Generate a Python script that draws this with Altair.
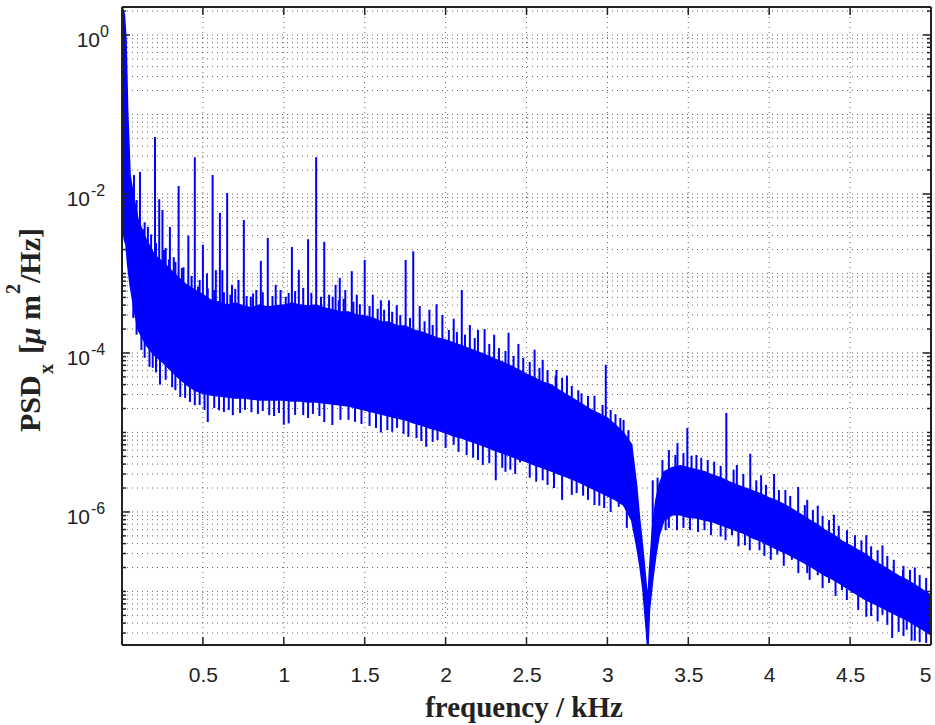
import altair as alt
import numpy as np
import pandas as pd

# ---- PSD trace: frequency nodes (kHz) with upper / lower edge of the dense band ----
freq = [0.002, 0.015, 0.025, 0.035, 0.05, 0.075, 0.10, 0.15, 0.20, 0.25, 0.30, 0.35,
        0.40, 0.45, 0.50, 0.55, 0.60, 0.65, 0.70, 0.75, 0.80, 0.85, 0.90, 0.95, 1.00,
        1.05, 1.10, 1.15, 1.20, 1.25, 1.30, 1.35, 1.40, 1.45, 1.50, 1.55, 1.60, 1.65,
        1.70, 1.75, 1.80, 1.85, 1.90, 1.95, 2.00, 2.05, 2.10, 2.15, 2.20, 2.25, 2.30,
        2.35, 2.40, 2.45, 2.50, 2.55, 2.60, 2.65, 2.70, 2.75, 2.80, 2.85, 2.90, 2.95,
        3.00, 3.05, 3.10, 3.15, 3.18, 3.20, 3.22, 3.24, 3.25, 3.26, 3.28, 3.30, 3.32,
        3.35, 3.40, 3.45, 3.50, 3.55, 3.60, 3.65, 3.70, 3.75, 3.80, 3.85, 3.90, 3.95,
        4.00, 4.05, 4.10, 4.15, 4.20, 4.25, 4.30, 4.35, 4.40, 4.45, 4.50, 4.55, 4.60,
        4.65, 4.70, 4.75, 4.80, 4.85, 4.90, 4.95, 5.00]

psd_upper = [2.25, 1.79, 0.865, 0.114, 0.0173, 0.0084, 0.0047, 0.00264, 0.00171, 0.0014,
             0.00111, 0.00088, 0.000716, 0.00062, 0.00054, 0.00046, 0.000438, 0.0004,
             0.000426, 0.00039, 0.000368, 0.0004, 0.00038, 0.00039, 0.0004, 0.000426,
             0.0004, 0.00039, 0.0004, 0.000368, 0.00035, 0.000328, 0.000328, 0.0003,
             0.000292, 0.000275, 0.000245, 0.000245, 0.000219, 0.000219, 0.000195,
             0.000184, 0.000168, 0.000154, 0.000146, 0.000134, 0.000123, 0.000112,
             0.000103, 9.4e-5, 8.4e-5, 7.7e-5, 6.9e-5, 6.1e-5, 5.4e-5, 4.85e-5, 4.3e-5,
             4.0e-5, 3.4e-5, 2.96e-5, 2.56e-5, 2.22e-5, 1.92e-5, 1.71e-5, 1.52e-5,
             1.24e-5, 9.9e-6, 7.0e-6, 2.2e-6, 7.9e-7, 3.3e-7, 1.2e-7, 7.8e-8, 1.86e-7,
             6.9e-7, 1.42e-6, 2.2e-6, 3.2e-6, 3.6e-6, 3.8e-6, 3.6e-6, 3.4e-6, 3.2e-6,
             2.9e-6, 2.7e-6, 2.4e-6, 2.19e-6, 2.0e-6, 1.84e-6, 1.68e-6, 1.5e-6, 1.38e-6,
             1.22e-6, 1.06e-6, 9.2e-7, 7.9e-7, 6.9e-7, 5.8e-7, 5.1e-7, 4.3e-7, 3.8e-7,
             3.3e-7, 2.9e-7, 2.4e-7, 2.1e-7, 1.81e-7, 1.57e-7, 1.4e-7, 1.21e-7, 1.04e-7,
             9.0e-8]

psd_lower = [0.0041, 0.00264, 0.00228, 0.00128, 0.000716, 0.00035, 0.000195, 0.000126,
             9.4e-5, 7.7e-5, 6.1e-5, 4.85e-5, 4.0e-5, 3.4e-5, 3.1e-5, 2.96e-5, 2.88e-5,
             2.8e-5, 2.72e-5, 2.72e-5, 2.64e-5, 2.56e-5, 2.56e-5, 2.56e-5, 2.56e-5,
             2.49e-5, 2.49e-5, 2.42e-5, 2.42e-5, 2.35e-5, 2.28e-5, 2.22e-5, 2.15e-5,
             2.03e-5, 1.92e-5, 1.81e-5, 1.71e-5, 1.61e-5, 1.52e-5, 1.44e-5, 1.32e-5,
             1.24e-5, 1.14e-5, 1.07e-5, 9.9e-6, 9.0e-6, 8.5e-6, 7.8e-6, 7.2e-6, 6.6e-6,
             6.0e-6, 5.5e-6, 5.1e-6, 4.6e-6, 4.3e-6, 3.9e-6, 3.6e-6, 3.3e-6, 3.0e-6,
             2.75e-6, 2.5e-6, 2.25e-6, 2.0e-6, 1.79e-6, 1.59e-6, 1.42e-6, 1.22e-6, 7.9e-7,
             3.8e-7, 2.15e-7, 1.04e-7, 3.3e-8, 1.8e-8, 5.85e-8, 1.4e-7, 2.9e-7, 5.1e-7,
             7.9e-7, 9.2e-7, 9.2e-7, 8.6e-7, 8.4e-7, 7.9e-7, 7.5e-7, 6.9e-7, 6.3e-7,
             5.8e-7, 5.3e-7, 4.7e-7, 4.3e-7, 3.8e-7, 3.4e-7, 3.05e-7, 2.7e-7, 2.4e-7,
             2.1e-7, 1.81e-7, 1.57e-7, 1.4e-7, 1.21e-7, 1.04e-7, 9.0e-8, 7.8e-8, 7.0e-8,
             6.2e-8, 5.5e-8, 4.9e-8, 4.4e-8, 3.8e-8, 3.3e-8, 2.84e-8]

# ---- narrow peaks standing well above the band ----
peak_freq = [0.074, 0.111, 0.13, 0.16, 0.204, 0.23, 0.25, 0.27, 0.296, 0.32, 0.35, 0.38,
             0.41, 0.45, 0.47, 0.50, 0.525, 0.56, 0.58, 0.605, 0.62, 0.65, 0.68, 0.72,
             0.753, 0.796, 0.83, 0.858, 0.901, 0.95, 1.012, 1.05, 1.093, 1.12, 1.15, 1.20,
             1.25, 1.302, 1.32, 1.346, 1.38, 1.42, 1.451, 1.50, 1.55, 1.60, 1.65, 1.698,
             1.753, 1.80, 1.84, 1.90, 1.944, 1.98, 2.05, 2.10, 2.15, 2.20, 2.241, 2.30,
             2.389, 2.45, 2.55, 2.60, 2.685, 2.75, 2.84, 2.92, 2.99, 3.05, 3.10, 3.28,
             3.38, 3.433, 3.494, 3.55, 3.62, 3.735, 3.80, 3.883, 3.95, 4.03, 4.10, 4.179,
             4.235, 4.30, 4.40, 4.481, 4.60, 4.70, 4.827, 4.90]
peak_psd = [0.0173, 0.0189, 0.0036, 0.00385, 0.052, 0.0086, 0.0063, 0.0021, 0.00385,
            0.0016, 0.0126, 0.0012, 0.0030, 0.029, 0.00068, 0.0023, 0.0010, 0.0173,
            0.0011, 0.0058, 0.0011, 0.0103, 0.00072, 0.00083, 0.0047, 0.00051, 0.00062,
            0.00144, 0.0028, 0.00072, 0.00051, 0.00215, 0.00111, 0.00066, 0.0027, 0.029,
            0.0025, 0.00051, 0.00072, 0.00088, 0.00062, 0.00107, 0.00054, 0.00148,
            0.00054, 0.00046, 0.00046, 0.00040, 0.00148, 0.0019, 0.00039, 0.00035,
            0.00041, 0.0003, 0.00027, 0.00062, 0.000225, 0.000195, 0.0002, 0.00017,
            0.00018, 0.00013, 0.00011, 8.2e-5, 6.1e-5, 5.2e-5, 3.1e-5, 2.9e-5, 7.1e-5,
            1.7e-5, 1.44e-5, 2.5e-6, 6.0e-6, 7.4e-6, 1.14e-5, 5.2e-6, 4.5e-6, 1.76e-5,
            3.9e-6, 5.4e-6, 2.9e-6, 3.0e-6, 1.89e-6, 2.06e-6, 1.42e-6, 1.2e-6, 9.2e-7,
            5.9e-7, 5.1e-7, 3.8e-7, 1.86e-7, 2.0e-7]

# ---- narrow notches dropping well below the band ----
notch_freq = [0.17, 0.235, 0.36, 0.45, 0.53, 0.60, 0.685, 0.80, 0.91, 1.00, 1.03, 1.12,
              1.25, 1.30, 1.40, 1.60, 1.70, 1.77, 1.88, 1.95, 2.05, 2.13, 2.23, 2.31,
              2.40, 2.46, 2.60, 2.72, 2.85, 2.95, 3.07, 3.36, 3.51, 3.60, 3.70, 3.77,
              3.85, 3.94, 4.05, 4.14, 4.235, 4.30, 4.37, 4.45, 4.51, 4.60, 4.70, 4.76,
              4.85, 4.90, 4.97]
notch_psd = [6.7e-5, 4.0e-5, 2.8e-5, 2.2e-5, 1.35e-5, 1.9e-5, 1.65e-5, 1.8e-5, 1.65e-5,
             1.25e-5, 1.3e-5, 1.65e-5, 1.35e-5, 1.24e-5, 1.44e-5, 1.0e-5, 1.14e-5, 8.8e-6,
             6.6e-6, 8.0e-6, 7.0e-6, 5.2e-6, 3.9e-6, 2.5e-6, 3.4e-6, 4.2e-6, 2.5e-6,
             1.42e-6, 1.6e-6, 1.2e-6, 1.16e-6, 5.9e-7, 5.9e-7, 5.9e-7, 4.9e-7, 5.1e-7,
             3.8e-7, 3.3e-7, 2.9e-7, 2.5e-7, 1.7e-7, 1.6e-7, 1.28e-7, 1.04e-7, 9.6e-8,
             4.8e-8, 5.1e-8, 2.6e-8, 3.3e-8, 2.4e-8, 2.25e-8]

# ---- short ripples along the upper edge of the band ----
ripple_up_freq = [0.09, 0.14, 0.18, 0.21, 0.26, 0.29, 0.33, 0.37, 0.43, 0.48, 0.53, 0.57,
                  0.63, 0.67, 0.70, 0.77, 0.81, 0.87, 0.93, 0.98, 1.03, 1.07, 1.17, 1.23,
                  1.28, 1.34, 1.37, 1.43, 1.47, 1.53, 1.58, 1.62, 1.67, 1.72, 1.78, 1.87,
                  1.92, 2.02, 2.07, 2.12, 2.18, 2.27, 2.33, 2.37, 2.42, 2.48, 2.52, 2.58,
                  2.63, 2.68, 2.72, 2.78, 2.82, 2.88, 2.97, 3.02, 3.08, 3.13, 3.31, 3.34,
                  3.42, 3.47, 3.52, 3.58, 3.66, 3.70, 3.78, 3.84, 3.92, 3.98, 4.06, 4.13,
                  4.22, 4.27, 4.33, 4.37, 4.43, 4.53, 4.57, 4.63, 4.67, 4.73, 4.77, 4.83,
                  4.87, 4.93, 4.97]
ripple_up_psd = [0.0084, 0.0044, 0.0031, 0.0024, 0.00198, 0.0015, 0.0014, 0.00117,
                 0.00093, 0.00083, 0.00065, 0.00062, 0.00058, 0.00054, 0.00064, 0.00052,
                 0.00056, 0.00058, 0.00052, 0.00062, 0.00057, 0.0006, 0.00057, 0.00051,
                 0.00054, 0.00046, 0.00048, 0.00044, 0.00041, 0.00039, 0.00036, 0.00035,
                 0.00033, 0.0003, 0.000275, 0.00025, 0.000225, 0.000195, 0.000184,
                 0.00017, 0.000154, 0.00013, 0.000115, 0.000106, 9.2e-5, 8.7e-5, 7.7e-5,
                 6.5e-5, 6.1e-5, 5.2e-5, 4.85e-5, 3.85e-5, 3.4e-5, 2.88e-5, 2.22e-5,
                 1.92e-5, 1.52e-5, 1.07e-5, 2.7e-6, 4.5e-6, 5.2e-6, 5.5e-6, 5.1e-6, 4.8e-6,
                 4.3e-6, 3.8e-6, 3.4e-6, 3.0e-6, 2.5e-6, 2.19e-6, 1.89e-6, 1.59e-6, 1.22e-6,
                 1.06e-6, 8.9e-7, 7.9e-7, 6.7e-7, 5.1e-7, 4.4e-7, 3.7e-7, 3.3e-7, 2.8e-7,
                 2.5e-7, 2.1e-7, 1.86e-7, 1.61e-7, 1.48e-7]

# ---- short ripples along the lower edge of the band ----
ripple_down_freq = [0.07, 0.09, 0.12, 0.14, 0.19, 0.21, 0.27, 0.31, 0.33, 0.39, 0.42, 0.48,
                    0.51, 0.57, 0.63, 0.66, 0.73, 0.76, 0.84, 0.87, 0.94, 0.97, 1.07, 1.15,
                    1.18, 1.22, 1.35, 1.44, 1.48, 1.53, 1.57, 1.64, 1.67, 1.74, 1.82, 1.85,
                    1.92, 2.00, 2.08, 2.17, 2.20, 2.27, 2.35, 2.37, 2.43, 2.52, 2.56, 2.63,
                    2.67, 2.78, 2.81, 2.88, 2.92, 2.98, 3.02, 3.12, 3.38, 3.43, 3.47, 3.56,
                    3.64, 3.73, 3.81, 3.88, 3.97, 4.01, 4.09, 4.18, 4.25, 4.33, 4.41, 4.48,
                    4.55, 4.63, 4.67, 4.73, 4.80, 4.83, 4.88, 4.93]
ripple_down_psd = [0.000275, 0.00017, 0.000109, 8.7e-5, 6.5e-5, 5.7e-5, 4.6e-5, 3.7e-5,
                   3.4e-5, 2.72e-5, 2.42e-5, 2.22e-5, 1.92e-5, 2.03e-5, 1.81e-5, 1.92e-5,
                   1.76e-5, 1.92e-5, 1.71e-5, 1.86e-5, 1.61e-5, 1.76e-5, 1.66e-5, 1.52e-5,
                   1.71e-5, 1.61e-5, 1.44e-5, 1.36e-5, 1.28e-5, 1.21e-5, 1.14e-5, 1.07e-5,
                   1.02e-5, 9.6e-6, 8.5e-6, 7.8e-6, 7.6e-6, 6.4e-6, 5.7e-6, 4.8e-6, 4.5e-6,
                   4.1e-6, 3.6e-6, 3.2e-6, 3.0e-6, 2.7e-6, 2.4e-6, 2.19e-6, 2.0e-6, 1.64e-6,
                   1.73e-6, 1.42e-6, 1.22e-6, 1.12e-6, 1.0e-6, 6.3e-7, 6.3e-7, 5.9e-7,
                   6.3e-7, 5.6e-7, 5.1e-7, 4.4e-7, 3.7e-7, 3.3e-7, 2.8e-7, 2.5e-7, 2.1e-7,
                   1.7e-7, 1.4e-7, 1.1e-7, 8.8e-8, 7.8e-8, 5.85e-8, 4.9e-8, 4.2e-8, 3.8e-8,
                   3.1e-8, 2.75e-8, 2.4e-8, 2.3e-8]

# ---- axes ----
x_ticks = [0.5, 1.0, 1.5, 2.0, 2.5, 3.0, 3.5, 4.0, 4.5, 5.0]
y_label_exponents = [0, -2, -4, -6]
y_min, y_max = 2.12e-8, 2.25

W, H = 809, 638
BLUE = "#0000ff"
INK = "#222222"

band = pd.DataFrame({"f": freq, "upper": psd_upper, "lower": psd_lower})

# every spike is drawn from the middle of the band out to its tip
log_mid = (np.log10(psd_upper) + np.log10(psd_lower)) / 2.0


def spikes(fs, vs):
    df = pd.DataFrame({"f": fs, "v": vs})
    df["base"] = 10 ** np.interp(df["f"], freq, log_mid)
    return df


peaks = spikes(peak_freq + notch_freq, peak_psd + notch_psd)
ripples = spikes(ripple_up_freq + ripple_down_freq, ripple_up_psd + ripple_down_psd)

# log-axis tick positions: labelled decades are major, everything else minor
grid_vals, major_vals, minor_vals = [], [], []
for e in range(-8, 1):
    for m in range(1, 10):
        v = m * 10.0 ** e
        if y_min <= v <= y_max:
            grid_vals.append(v)
            if m == 1 and e in y_label_exponents:
                major_vals.append(v)
            else:
                minor_vals.append(v)
ygrid = pd.DataFrame({"v": grid_vals})
ymajor = pd.DataFrame({"v": major_vals})
yminor = pd.DataFrame({"v": minor_vals})
xt = pd.DataFrame({"t": x_ticks})

ylab = pd.DataFrame({"e": y_label_exponents})
ylab["v"] = 10.0 ** ylab["e"]
ylab["base"] = "10"
ylab["exp"] = ylab["e"].astype(str)

xscale = alt.Scale(domain=[0, 5], nice=False, zero=False)
yscale = alt.Scale(type="log", domain=[y_min, y_max], nice=False)

grid_style = dict(color="#555555", strokeWidth=1, strokeDash=[1, 4], opacity=0.9)

x_grid = alt.Chart(xt).mark_rule(**grid_style).encode(
    x=alt.X("t:Q", scale=xscale,
            axis=alt.Axis(values=x_ticks, format="~g", title=None, grid=False,
                          ticks=False, tickSize=0, domain=False, labelFont="Liberation Sans",
                          labelFontSize=21, labelColor=INK, labelPadding=19,
                          labelFlush=True)),
    y=alt.value(0), y2=alt.value(H))

y_grid = alt.Chart(ygrid).mark_rule(**grid_style).encode(
    y=alt.Y("v:Q", scale=yscale, axis=None), x=alt.value(0), x2=alt.value(W))

band_layer = alt.Chart(band).mark_area(color=BLUE, clip=True, opacity=1).encode(
    x=alt.X("f:Q", scale=xscale), y=alt.Y("upper:Q", scale=yscale), y2="lower:Q")

band_edges = alt.Chart(band).transform_fold(["upper", "lower"], as_=["edge", "val"]).mark_line(
    color=BLUE, strokeWidth=1.5, clip=True).encode(
    x=alt.X("f:Q", scale=xscale), y=alt.Y("val:Q", scale=yscale), detail="edge:N")

peak_layer = alt.Chart(peaks).mark_rule(color=BLUE, strokeWidth=2, clip=True).encode(
    x=alt.X("f:Q", scale=xscale), y=alt.Y("v:Q", scale=yscale), y2="base:Q")

ripple_layer = alt.Chart(ripples).mark_rule(color=BLUE, strokeWidth=2, clip=True).encode(
    x=alt.X("f:Q", scale=xscale), y=alt.Y("v:Q", scale=yscale), y2="base:Q")

tick_style = dict(color=INK, strokeWidth=1.5)
x_ticks_bottom = alt.Chart(xt).mark_rule(**tick_style).encode(
    x=alt.X("t:Q", scale=xscale), y=alt.value(H), y2=alt.value(H - 8))
x_ticks_top = alt.Chart(xt).mark_rule(**tick_style).encode(
    x=alt.X("t:Q", scale=xscale), y=alt.value(0), y2=alt.value(8))
y_major_left = alt.Chart(ymajor).mark_rule(**tick_style).encode(
    y=alt.Y("v:Q", scale=yscale), x=alt.value(0), x2=alt.value(8))
y_major_right = alt.Chart(ymajor).mark_rule(**tick_style).encode(
    y=alt.Y("v:Q", scale=yscale), x=alt.value(W), x2=alt.value(W - 8))
y_minor_left = alt.Chart(yminor).mark_rule(**tick_style).encode(
    y=alt.Y("v:Q", scale=yscale), x=alt.value(0), x2=alt.value(4))
y_minor_right = alt.Chart(yminor).mark_rule(**tick_style).encode(
    y=alt.Y("v:Q", scale=yscale), x=alt.value(W), x2=alt.value(W - 4))

# frame around the plot area
frame_df = pd.DataFrame({"k": [0]})
frame = [
    alt.Chart(frame_df).mark_rule(color=INK, strokeWidth=2).encode(
        x=alt.value(0), x2=alt.value(W), y=alt.value(0)),
    alt.Chart(frame_df).mark_rule(color=INK, strokeWidth=2).encode(
        x=alt.value(0), x2=alt.value(W), y=alt.value(H)),
    alt.Chart(frame_df).mark_rule(color=INK, strokeWidth=2).encode(
        x=alt.value(0), y=alt.value(0), y2=alt.value(H)),
    alt.Chart(frame_df).mark_rule(color=INK, strokeWidth=2).encode(
        x=alt.value(W), y=alt.value(0), y2=alt.value(H)),
]

# y tick labels written as 10 with a raised exponent
lab_font = dict(font="Liberation Sans", color=INK)
ylab_zero = alt.Chart(ylab).transform_filter("datum.e == 0")
ylab_neg = alt.Chart(ylab).transform_filter("datum.e < 0")
y_labels = [
    ylab_zero.mark_text(align="right", baseline="alphabetic", fontSize=21, dy=12, **lab_font).encode(
        y=alt.Y("v:Q", scale=yscale), x=alt.value(-22), text="base:N"),
    ylab_zero.mark_text(align="left", baseline="alphabetic", fontSize=16, dy=2, **lab_font).encode(
        y=alt.Y("v:Q", scale=yscale), x=alt.value(-22), text="exp:N"),
    ylab_neg.mark_text(align="right", baseline="alphabetic", fontSize=21, dy=12, **lab_font).encode(
        y=alt.Y("v:Q", scale=yscale), x=alt.value(-32), text="base:N"),
    ylab_neg.mark_text(align="left", baseline="alphabetic", fontSize=16, dy=2, **lab_font).encode(
        y=alt.Y("v:Q", scale=yscale), x=alt.value(-31), text="exp:N"),
]

# axis titles
serif = dict(font="Liberation Serif", fontWeight="bold", color=INK)
one = pd.DataFrame({"k": [0]})


def title_piece(text, x, y, size, angle=270, align="left", style="normal"):
    return alt.Chart(one).mark_text(align=align, baseline="alphabetic", angle=angle,
                                    fontSize=size, fontStyle=style, **serif).encode(
        x=alt.value(x), y=alt.value(y), text=alt.value(text))


titles = [
    title_piece("frequency / kHz", 402, 710, 29, angle=0, align="center"),
    title_piece("PSD", -82, 425, 30),
    title_piece("x", -69, 367, 20),
    title_piece("[", -82, 347, 30),
    title_piece("\u03bc", -82, 337, 30, style="italic"),
    title_piece("m", -82, 313, 30),
    title_piece("2", -102, 287, 20),
    title_piece("/Hz]", -82, 276, 30),
]

chart = alt.layer(
    x_grid, y_grid, band_layer, band_edges, ripple_layer, peak_layer,
    x_ticks_bottom, x_ticks_top, y_major_left, y_major_right, y_minor_left, y_minor_right,
    *frame, *y_labels, *titles,
).properties(
    width=W, height=H,
    autosize=alt.AutoSizeParams(type="none"),
    padding={"left": 122, "top": 7, "right": 4, "bottom": 80},
    background="white",
).configure_view(stroke=None)

chart.save("out.html", embed_options={"renderer": "svg", "actions": False})
